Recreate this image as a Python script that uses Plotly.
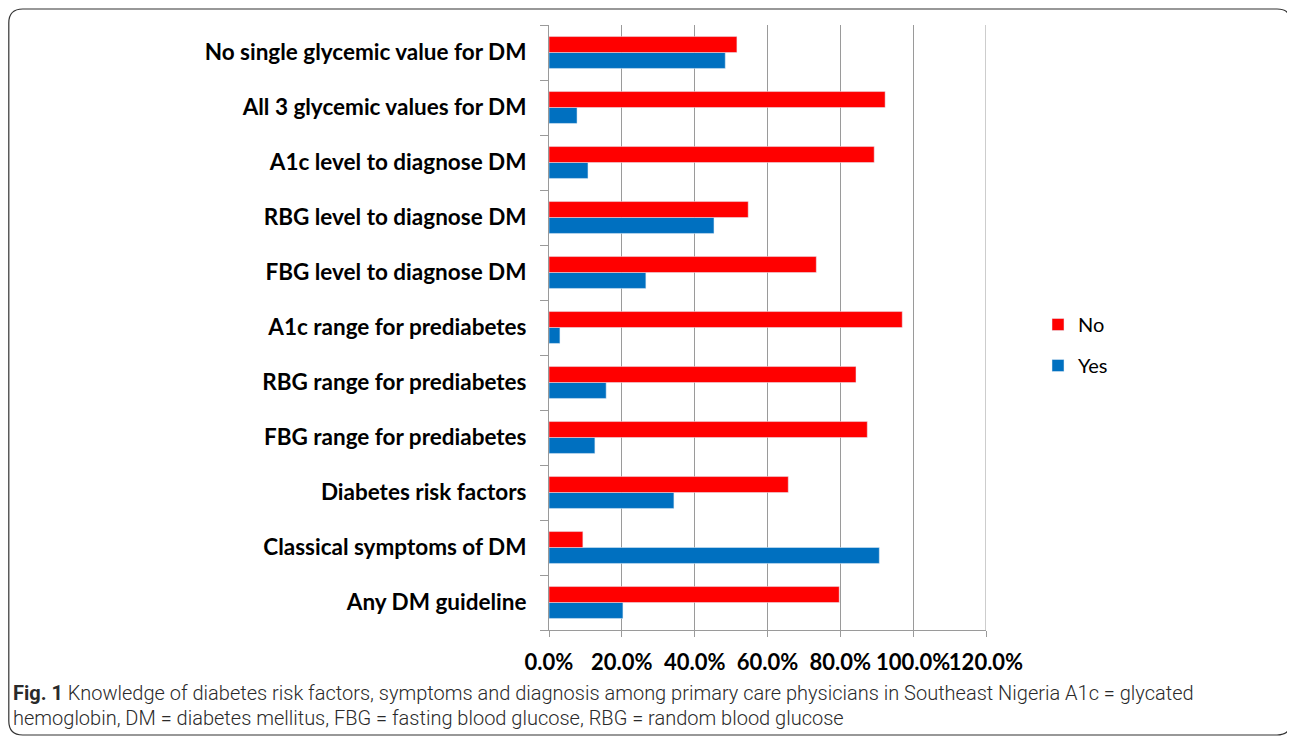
import plotly.graph_objects as go

# categories listed bottom -> top (as plotted)
categories = [
    "Any DM guideline",
    "Classical symptoms of DM",
    "Diabetes risk factors",
    "FBG range for prediabetes",
    "RBG range for prediabetes",
    "A1c range for prediabetes",
    "FBG level to diagnose DM",
    "RBG level to diagnose DM",
    "A1c level to diagnose DM",
    "All 3 glycemic values for DM",
    "No single glycemic value for DM",
]
no_pct = [79.7, 9.3, 65.7, 87.4, 84.3, 97.0, 73.4, 54.7, 89.3, 92.3, 51.6]
yes_pct = [20.3, 90.7, 34.3, 12.6, 15.7, 3.0, 26.6, 45.3, 10.7, 7.7, 48.4]
x_ticks = [0, 20, 40, 60, 80, 100, 120]
x_tick_labels = ["0.0%", "20.0%", "40.0%", "60.0%", "80.0%", "100.0%", "120.0%"]

caption_1 = ("<b>Fig. 1</b> Knowledge of diabetes risk factors, symptoms and diagnosis among "
             "primary care physicians in Southeast Nigeria A1c = glycated")
caption_2 = "hemoglobin, DM = diabetes mellitus, FBG = fasting blood glucose, RBG = random blood glucose"

# page sits 8px in from the window edge (body margin), so work in page pixels
W, H = 1287, 730
L, T = 541, 17
R = W - 978
B = H - 622
pw, ph = W - L - R, H - T - B


def px_x(x):
    return (x - L) / pw


def px_y(y):
    return (H - B - y) / ph


fig = go.Figure()

# Yes first so it sits below No inside each group
fig.add_trace(go.Bar(
    y=categories, x=yes_pct, orientation="h", name="Yes",
    marker_color="#0070C0", legendgroup="yes", legendrank=2,
))
fig.add_trace(go.Bar(
    y=categories, x=no_pct, orientation="h", name="No",
    marker_color="#FF0000", legendgroup="no", legendrank=1,
))

# rounded frame around the whole figure
x0, x1 = px_x(0.8), px_x(1283)
y0, y1 = px_y(727), px_y(1)
rx, ry = 14 / pw, 14 / ph
frame = (f"M {x0+rx},{y1} L {x1-rx},{y1} Q {x1},{y1} {x1},{y1-ry} "
         f"L {x1},{y0+ry} Q {x1},{y0} {x1-rx},{y0} "
         f"L {x0+rx},{y0} Q {x0},{y0} {x0},{y0+ry} "
         f"L {x0},{y1-ry} Q {x0},{y1} {x0+rx},{y1} Z")

cap_font = dict(size=20, family="Roboto, sans-serif", color="#2a2a2a", weight=300)

fig.update_layout(
    width=W, height=H,
    margin=dict(l=L, r=R, t=T, b=B),
    barmode="group",
    bargap=0.42,
    bargroupgap=0,
    paper_bgcolor="white",
    plot_bgcolor="white",
    font=dict(family="Lato, Open Sans, sans-serif", color="black"),
    legend=dict(
        x=px_x(1030), y=px_y(297), xanchor="left", yanchor="top",
        traceorder="grouped", tracegroupgap=12,
        font=dict(size=20, family="Lato, sans-serif"),
        bgcolor="rgba(0,0,0,0)",
    ),
    shapes=[
        dict(type="path", path=frame, xref="paper", yref="paper",
             line=dict(color="#333333", width=1.2)),
        # last gridline sits on the plot edge
        dict(type="line", xref="x", yref="paper", x0=120, x1=120, y0=0, y1=1,
             line=dict(color="#9a9a9a", width=1)),
    ],
    annotations=[
        dict(text=caption_1, xref="paper", yref="paper", x=px_x(3), y=px_y(685),
             xanchor="left", yanchor="middle", showarrow=False, font=cap_font),
        dict(text=caption_2, xref="paper", yref="paper", x=px_x(3), y=px_y(710),
             xanchor="left", yanchor="middle", showarrow=False, font=cap_font),
    ],
)

fig.update_xaxes(
    range=[0, 120],
    tickvals=x_ticks, ticktext=x_tick_labels,
    tickangle=0,
    showgrid=True, gridcolor="#9a9a9a", gridwidth=1,
    showline=True, linecolor="#9a9a9a", linewidth=1,
    ticks="outside", ticklen=6, tickcolor="#9a9a9a",
    ticklabelstandoff=7,
    tickfont=dict(size=22, family="Lato, sans-serif", weight="bold"),
    zeroline=False,
)
fig.update_yaxes(
    type="category",
    showgrid=False,
    showline=True, linecolor="#9a9a9a", linewidth=1,
    ticks="outside", ticklen=8, tickcolor="#9a9a9a",
    tickson="boundaries",
    ticklabelstandoff=17,
    tickfont=dict(size=22.5, family="Lato, sans-serif", weight="bold"),
)

fig.write_html("out.html")
